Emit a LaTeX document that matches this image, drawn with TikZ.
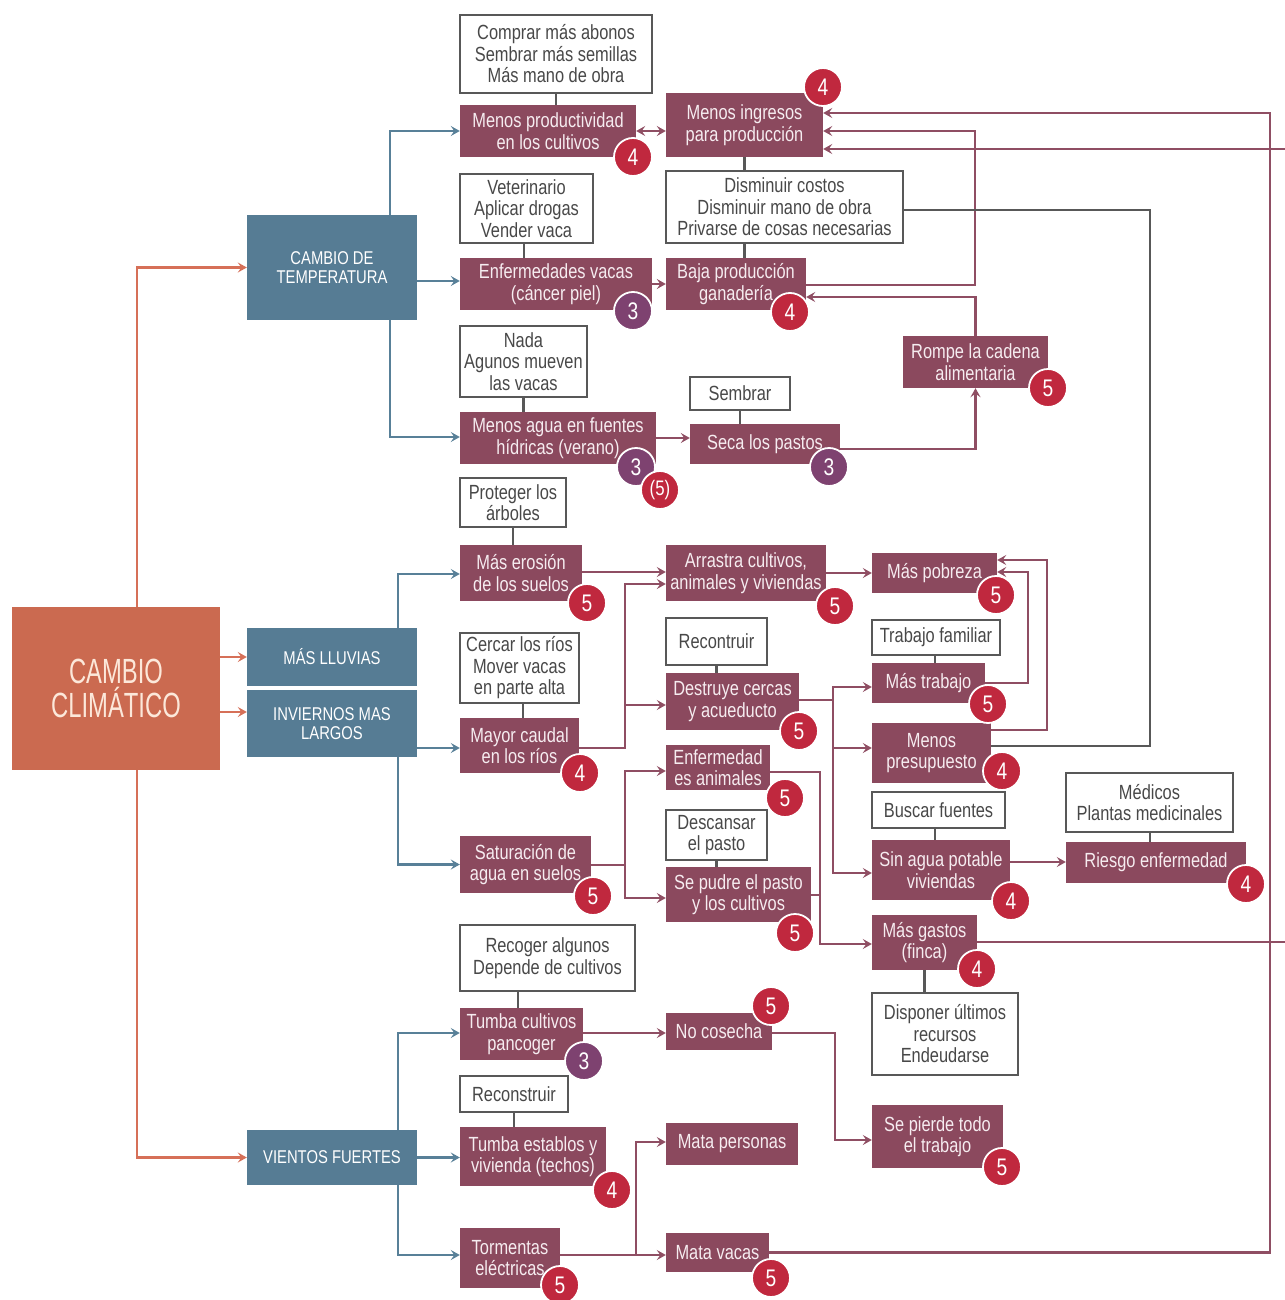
\documentclass[tikz,border=0pt]{standalone}
\usepackage{fontspec}
\setmainfont{Liberation Sans}[FakeStretch=0.8]
\newfontfamily\titlefont{Liberation Sans}[FakeStretch=0.68]
\usetikzlibrary{arrows.meta}

\definecolor{maroonfill}{RGB}{139,73,94}
\definecolor{maroonline}{RGB}{143,78,99}
\definecolor{maroontext}{RGB}{246,236,240}
\definecolor{bluefill}{RGB}{86,124,148}
\definecolor{blueline}{RGB}{88,128,152}
\definecolor{orangefill}{RGB}{203,106,80}
\definecolor{orangeline}{RGB}{214,112,88}
\definecolor{creamtext}{RGB}{252,232,218}
\definecolor{boxgray}{RGB}{88,88,88}
\definecolor{graytext}{RGB}{72,72,72}
\definecolor{badgered}{RGB}{192,40,62}
\definecolor{badgepurple}{RGB}{126,66,112}

\pgfdeclarelayer{background}
\pgfsetlayers{background,main}

\tikzset{
  wd/.style={minimum width=#1pt},
  ht/.style={minimum height=#1pt},
  boxbase/.style={rectangle, inner sep=0pt, align=center,
    font=\fontsize{20.5}{21.5}\selectfont},
  mar/.style={boxbase, fill=maroonfill, text=maroontext},
  wht/.style={boxbase, fill=white, draw=boxgray, line width=2.4pt, text=graytext},
  blu/.style={rectangle, inner sep=0pt, align=center, fill=bluefill,
    text=white, font=\fontsize{18.5}{19}\selectfont},
  mainbox/.style={rectangle, inner sep=0pt, align=center, fill=orangefill,
    text=creamtext, font=\titlefont\fontsize{35}{34}\selectfont},
  badge/.style={circle, minimum size=38pt, inner sep=0pt, fill=badgered,
    draw=white, line width=1.8pt, text=white, font=\fontsize{24}{24}\selectfont},
  pbadge/.style={badge, fill=badgepurple},
  headtip/.tip={Stealth[length=9pt,width=10pt,inset=3.5pt]},
  tipshape/.style={-headtip},
  mline/.style={draw=maroonline, line width=2.8pt},
  mcon/.style={mline, tipshape},
  bcon/.style={draw=blueline, line width=2.8pt, tipshape},
  ocon/.style={draw=orangeline, line width=2.8pt, tipshape},
  gline/.style={draw=boxgray, line width=2.4pt},
}

\begin{document}
\begin{tikzpicture}[x=1pt,y=-1pt]
\useasboundingbox (0,0) rectangle (1284,1300);

% ---------- root and climate drivers ----------
\node[mainbox, wd=208, ht=163] (cc) at (116,688.5) {CAMBIO\\CLIMÁTICO};
\node[blu, wd=170, ht=105] (temp) at (332,267.5) {CAMBIO DE\\TEMPERATURA};
\node[blu, wd=170, ht=58]  (lluv) at (332,657) {MÁS LLUVIAS};
\node[blu, wd=170, ht=67]  (inv)  at (332,723.5) {INVIERNOS MAS\\LARGOS};
\node[blu, wd=170, ht=55]  (vien) at (332,1157.5) {VIENTOS FUERTES};

% ---------- impacts ----------
\node[mar, wd=176, ht=52] (mprod) at (548,131) {Menos productividad\\en los cultivos};
\node[mar, wd=157, ht=64] (ming)  at (744.5,125) {Menos ingresos\\para producción};
\node[mar, wd=192, ht=52] (enf)   at (556,284) {Enfermedades vacas\\(cáncer piel)};
\node[mar, wd=140, ht=52] (baja)  at (736,284) {Baja producción\\ganadería};
\node[mar, wd=196, ht=52] (agua)  at (558,438) {Menos agua en fuentes\\hídricas (verano)};
\node[mar, wd=150, ht=40] (seca)  at (765,444) {Seca los pastos};
\node[mar, wd=145, ht=52] (rompe) at (975.5,362) {Rompe la cadena\\alimentaria};
\node[mar, wd=122, ht=56] (mero)  at (521,573) {Más erosión\\de los suelos};
\node[mar, wd=160, ht=56] (arra)  at (746,573) {Arrastra cultivos,\\animales y viviendas};
\node[mar, wd=125, ht=40] (pobr)  at (934.5,573) {Más pobreza};
\node[mar, wd=119, ht=55] (cauda) at (519.5,745.5) {Mayor caudal\\en los ríos};
\node[mar, wd=133, ht=57] (destr) at (732.5,701.5) {Destruye cercas\\y acueducto};
\node[mar, wd=113, ht=40] (mtrab) at (928.5,683) {Más trabajo};
\node[mar, wd=119, ht=60] (mpres) at (931.5,753) {Menos\\presupuesto};
\node[mar, wd=104, ht=45] (enfan) at (718,767.5) {Enfermedad\\es animales};
\node[mar, wd=145, ht=55] (pudre) at (738.5,894.5) {Se pudre el pasto\\y los cultivos};
\node[mar, wd=131, ht=57] (satur) at (525.5,864.5) {Saturación de\\agua en suelos};
\node[mar, wd=138, ht=60] (sinag) at (941,870) {Sin agua potable\\viviendas};
\node[mar, wd=180, ht=41] (riesg) at (1156,862.5) {Riesgo enfermedad};
\node[mar, wd=105, ht=55] (mgast) at (924.5,942.5) {Más gastos\\(finca)};
\node[mar, wd=123, ht=52] (tcult) at (521.5,1034) {Tumba cultivos\\pancoger};
\node[mar, wd=106, ht=37] (nocos) at (719,1031.5) {No cosecha};
\node[mar, wd=131, ht=63] (pierd) at (937.5,1136.5) {Se pierde todo\\el trabajo};
\node[mar, wd=146, ht=59] (testab) at (533,1156.5) {Tumba establos y\\vivienda (techos)};
\node[mar, wd=132, ht=42] (mpers) at (732,1144) {Mata personas};
\node[mar, wd=100, ht=60] (torm)  at (510,1258) {Tormentas\\eléctricas};
\node[mar, wd=103, ht=39] (mvac)  at (717.5,1252.5) {Mata vacas};

% ---------- responses ----------
\node[wht, wd=192, ht=78] (w1)  at (556,54) {Comprar más abonos\\Sembrar más semillas\\Más mano de obra};
\node[wht, wd=133, ht=69] (w2)  at (526.5,208.5) {Veterinario\\Aplicar drogas\\Vender vaca};
\node[wht, wd=237, ht=72] (w3)  at (784.5,207) {Disminuir costos\\Disminuir mano de obra\\Privarse de cosas necesarias};
\node[wht, wd=127, ht=71] (w4)  at (523.5,361.5) {Nada\\Agunos mueven\\las vacas};
\node[wht, wd=100, ht=33] (w5)  at (740,393.5) {Sembrar};
\node[wht, wd=106, ht=49] (w6)  at (513,502.5) {Proteger los\\árboles};
\node[wht, wd=119, ht=70] (w7)  at (519.5,668) {Cercar los ríos\\Mover vacas\\en parte alta};
\node[wht, wd=101, ht=47] (w8)  at (716.5,641.5) {Recontruir};
\node[wht, wd=128, ht=35] (w9)  at (936,637.5) {Trabajo familiar};
\node[wht, wd=101, ht=50] (w10) at (716.5,835) {Descansar\\el pasto};
\node[wht, wd=133, ht=36] (w11) at (938.5,810) {Buscar fuentes};
\node[wht, wd=167, ht=59] (w12) at (1149.5,802.5) {Médicos\\Plantas medicinales};
\node[wht, wd=146, ht=82] (w13) at (945,1034) {Disponer últimos\\recursos\\Endeudarse};
\node[wht, wd=175, ht=66] (w14) at (547.5,958) {Recoger algunos\\Depende de cultivos};
\node[wht, wd=108, ht=36] (w15) at (514,1094) {Reconstruir};

% ---------- junction points ----------
\coordinate (jc) at (625,705);
\coordinate (jd) at (833,700);
\coordinate (js) at (625,865);
\coordinate (jt) at (636,1255);
\coordinate (jp) at (820,895);

\begin{pgfonlayer}{background}
\fill[white] (0,0) rectangle (1284,1300);
% root to drivers
\draw[ocon] (cc.north -| 137,0) |- (temp.west);
\draw[ocon] (cc.east |- lluv.west) -- (lluv.west);
\draw[ocon] (cc.east |- 0,712) -- (inv.west |- 0,712);
\draw[ocon] (cc.south -| 137,0) |- (vien.west);

% drivers to impacts
\draw[bcon] (temp.north -| 390,0) |- (mprod.west);
\draw[bcon] (temp.east |- 0,281) -- (enf.west |- 0,281);
\draw[bcon] (temp.south -| 390,0) |- (agua.west |- 0,437);
\draw[bcon] (lluv.north -| 398,0) |- (mero.west |- 0,574);
\draw[bcon] (inv.east |- 0,748) -- (cauda.west |- 0,748);
\draw[bcon] (inv.south -| 398,0) |- (satur.west);
\draw[bcon] (vien.north -| 398,0) |- (tcult.west |- 0,1033);
\draw[bcon] (vien.east) -- (testab.west |- vien.east);
\draw[bcon] (vien.south -| 398,0) |- (torm.west |- 0,1255);

% chains between impacts
\draw[mline, headtip-headtip] (mprod.east) -- (ming.west |- mprod.east);
\draw[mcon] (enf.east) -- (baja.west);
\draw[mcon] (agua.east) -- (seca.west |- agua.east);
\draw[mcon] (seca.east |- 0,449) -| (rompe.south);
\draw[mcon] (rompe.north) |- (baja.east |- 0,297);
\draw[mcon] (baja.east |- 0,285) -- (975,285) |- (ming.east |- 0,131);
\draw[mcon] (mvac.east) -- (1270,1252.5) |- (ming.east |- 0,113);
\draw[mcon] (mgast.east |- 0,942) -- (1292,942) |- (ming.east |- 0,149);
\draw[gline] (mpres.east |- 0,746) -- (1150,746) |- (w3.east |- 0,210);

\draw[mcon] (mero.east |- 0,572) -- (arra.west |- 0,572);
\draw[mline] (cauda.east |- 0,748) -- (625,748) -- (jc);
\draw[mcon] (jc) |- (arra.west |- 0,584);
\draw[mcon] (jc) -- (destr.west |- jc);
\draw[mcon] (arra.east |- 0,573) -- (pobr.west |- 0,573);
\draw[mcon] (mtrab.east) -- (1028,683) |- (pobr.east |- 0,572);
\draw[mcon] (mpres.east |- 0,730) -- (1047,730) |- (pobr.east |- 0,560);
\draw[mline] (destr.east |- jd) -- (jd);
\draw[mcon] (jd) |- (mtrab.west |- 0,687);
\draw[mcon] (jd) |- (mpres.west |- 0,748);
\draw[mcon] (jd) |- (sinag.west |- 0,873);
\draw[mline] (satur.east |- js) -- (js);
\draw[mcon] (js) |- (enfan.west |- 0,771);
\draw[mcon] (js) |- (pudre.west |- 0,898);
\draw[mcon] (enfan.east |- 0,772) -- (820,772) |- (mgast.west |- 0,944);
\draw[mline] (pudre.east |- jp) -- (jp);
\draw[mcon] (sinag.east |- 0,862) -- (riesg.west |- 0,862);
\draw[mcon] (tcult.east |- 0,1033) -- (nocos.west |- 0,1033);
\draw[mcon] (nocos.east |- 0,1033) -- (835,1033) |- (pierd.west |- 0,1140);
\draw[mcon] (torm.east |- jt) -- (mvac.west |- jt);
\draw[mcon] (jt) |- (mpers.west |- 0,1142);

% responses attached to impacts
\draw[gline] (w1.south) -- (w1.south |- mprod.north);
\draw[gline] (w2.south -| 524,0) -- (enf.north -| 524,0);
\draw[gline] (ming.south) -- (ming.south |- w3.north);
\draw[gline] (w3.south -| ming.south) -- (baja.north -| ming.south);
\draw[gline] (w4.south) -- (w4.south |- agua.north);
\draw[gline] (w5.south) -- (w5.south |- seca.north);
\draw[gline] (w6.south) -- (w6.south |- mero.north);
\draw[gline] (w7.south -| 523,0) -- (cauda.north -| 523,0);
\draw[gline] (w8.south) -- (w8.south |- destr.north);
\draw[gline] (w9.south -| 935,0) -- (mtrab.north -| 935,0);
\draw[gline] (w10.south) -- (w10.south |- pudre.north);
\draw[gline] (w11.south -| 935,0) -- (sinag.north -| 935,0);
\draw[gline] (w12.south -| 1150,0) -- (riesg.north -| 1150,0);
\draw[gline] (mgast.south) -- (mgast.south |- w13.north);
\draw[gline] (w14.south -| 518,0) -- (tcult.north -| 518,0);
\draw[gline] (w15.south) -- (w15.south |- testab.north);
\end{pgfonlayer}

% ---------- rating badges ----------
\node[badge]  (b1)  at (633,157) {4};
\node[badge]  (b2)  at (823,87) {4};
\node[pbadge] (b3)  at (633,311) {3};
\node[badge]  (b4)  at (790,312) {4};
\node[pbadge] (b5)  at (636,467) {3};
\node[badge, font=\fontsize{21}{21}\selectfont] (b6) at (660,490) {(5)};
\node[pbadge] (b7)  at (829,467) {3};
\node[badge]  (b8)  at (1048,388) {5};
\node[badge]  (b9)  at (587,603) {5};
\node[badge]  (b10) at (835,606) {5};
\node[badge]  (b11) at (996,595) {5};
\node[badge]  (b12) at (580,773) {4};
\node[badge]  (b13) at (799,731) {5};
\node[badge]  (b14) at (988,704) {5};
\node[badge]  (b15) at (1002,771) {4};
\node[badge]  (b16) at (785,798) {5};
\node[badge]  (b17) at (593,896) {5};
\node[badge]  (b18) at (795,933) {5};
\node[badge]  (b19) at (1011,901) {4};
\node[badge]  (b20) at (1246,884) {4};
\node[badge]  (b21) at (977,969) {4};
\node[pbadge] (b22) at (584,1061) {3};
\node[badge]  (b23) at (771,1006) {5};
\node[badge]  (b24) at (1002,1167) {5};
\node[badge]  (b25) at (612,1190) {4};
\node[badge]  (b26) at (560,1285) {5};
\node[badge]  (b27) at (771,1278) {5};
\end{tikzpicture}
\end{document}
